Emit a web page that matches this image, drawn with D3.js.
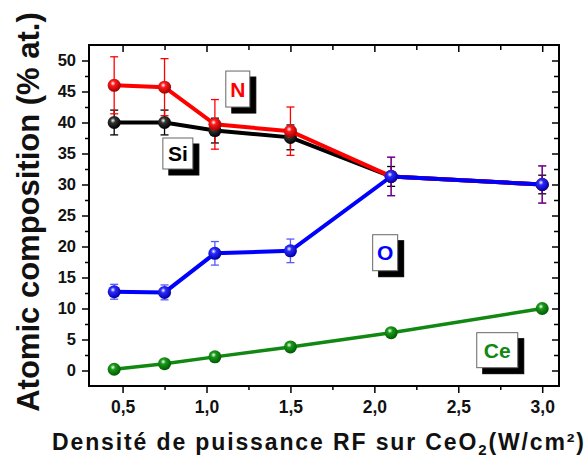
<!DOCTYPE html>
<html>
<head>
<meta charset="utf-8">
<script src="https://cdn.jsdelivr.net/npm/d3@7"></script>
<style>
  body { margin: 0; background: #fff; }
  text { font-family: "Liberation Sans", Arial, sans-serif; font-weight: bold; }
</style>
</head>
<body>
<script>
// power density values (W/cm2)
const xValues = [0.45, 0.75, 1.05, 1.5, 2.1, 3.0];

// atomic composition (% at.) per element
const nValues  = [46.0, 45.7, 39.7, 38.6, 31.3, 30.0];
const nErrors  = [4.6, 4.6, 4.0, 3.9, 3.1, 3.0];
const siValues = [40.0, 40.0, 38.7, 37.6, 31.3, 30.0];
const siErrors = [2.0, 2.0, 2.0, 2.0, 1.6, 1.5];
const oValues  = [12.7, 12.6, 18.9, 19.3, 31.3, 30.0];
const oErrors  = [1.2, 1.2, 1.9, 1.9, 3.1, 3.0];
const ceValues = [0.2, 1.1, 2.2, 3.8, 6.1, 10.0];

const xTicks = [0.5, 1.0, 1.5, 2.0, 2.5, 3.0];
const yTicks = [0, 5, 10, 15, 20, 25, 30, 35, 40, 45, 50];

const width = 588, height = 459;
const margin = {left: 89, top: 45, right: 29, bottom: 73};

const svg = d3.select("body").append("svg")
    .attr("width", width)
    .attr("height", height);

const x = d3.scaleLinear().domain([0.3, 3.1]).range([margin.left, width - margin.right]);
const y = d3.scaleLinear().domain([-2.5, 52.5]).range([height - margin.bottom, margin.top]);

const fmt = d => d3.format(".1f")(d).replace(".", ",");

// sphere gradients
const defs = svg.append("defs");
function sphere(id, color, dark) {
    const g = defs.append("radialGradient").attr("id", id)
        .attr("cx", "40%").attr("cy", "35%").attr("r", "65%");
    g.append("stop").attr("offset", "0%").attr("stop-color", "#fff");
    g.append("stop").attr("offset", "30%").attr("stop-color", color);
    g.append("stop").attr("offset", "100%").attr("stop-color", dark);
}
sphere("gN", "#ff1a1a", "#a00000");
sphere("gSi", "#333", "#000");
sphere("gO", "#2a2aff", "#0000a0");
sphere("gCe", "#1a9a1a", "#005a00");

// axes
const minorX = d3.range(0.25, 3.1, 0.25).filter(v => v > 0.3 && !xTicks.includes(v));
const minorY = d3.range(-2.5, 52.6, 5).filter(v => v > -2.5 && v < 52.5);

svg.append("g")
    .attr("transform", `translate(0,${height - margin.bottom})`)
    .call(d3.axisBottom(x).tickValues(xTicks).tickFormat(fmt).tickSize(7).tickPadding(8))
    .call(g => g.select(".domain").remove())
    .call(g => g.selectAll("line").attr("stroke-width", 1.5))
    .call(g => g.selectAll("text").attr("font-size", 17.5).attr("fill", "#111"));
svg.append("g")
    .attr("transform", `translate(0,${height - margin.bottom})`)
    .call(d3.axisBottom(x).tickValues(minorX).tickFormat("").tickSize(4))
    .call(g => g.select(".domain").remove())
    .call(g => g.selectAll("line").attr("stroke-width", 1.5));

svg.append("g")
    .attr("transform", `translate(${margin.left},0)`)
    .call(d3.axisLeft(y).tickValues(yTicks).tickFormat(d3.format("d")).tickSize(7).tickPadding(6))
    .call(g => g.select(".domain").remove())
    .call(g => g.selectAll("line").attr("stroke-width", 1.5))
    .call(g => g.selectAll("text").attr("font-size", 16.5).attr("fill", "#111"));
svg.append("g")
    .attr("transform", `translate(${margin.left},0)`)
    .call(d3.axisLeft(y).tickValues(minorY).tickFormat("").tickSize(4))
    .call(g => g.select(".domain").remove())
    .call(g => g.selectAll("line").attr("stroke-width", 1.5));

// top and right: inward ticks
svg.append("g")
    .attr("transform", `translate(0,${margin.top})`)
    .call(d3.axisTop(x).tickValues(xTicks).tickFormat("").tickSize(-7))
    .call(g => g.select(".domain").remove())
    .call(g => g.selectAll("line").attr("stroke-width", 1.5));
svg.append("g")
    .attr("transform", `translate(0,${margin.top})`)
    .call(d3.axisTop(x).tickValues(minorX).tickFormat("").tickSize(-5))
    .call(g => g.select(".domain").remove())
    .call(g => g.selectAll("line").attr("stroke-width", 1.5));
svg.append("g")
    .attr("transform", `translate(${width - margin.right},0)`)
    .call(d3.axisRight(y).tickValues(yTicks).tickFormat("").tickSize(-7))
    .call(g => g.select(".domain").remove())
    .call(g => g.selectAll("line").attr("stroke-width", 1.5));
svg.append("g")
    .attr("transform", `translate(${width - margin.right},0)`)
    .call(d3.axisRight(y).tickValues(minorY).tickFormat("").tickSize(-5))
    .call(g => g.select(".domain").remove())
    .call(g => g.selectAll("line").attr("stroke-width", 1.5));

// frame
svg.append("rect")
    .attr("x", margin.left).attr("y", margin.top)
    .attr("width", width - margin.left - margin.right)
    .attr("height", height - margin.top - margin.bottom)
    .attr("fill", "none").attr("stroke", "#000").attr("stroke-width", 2);

// series
const series = [
    {name: "Si", values: siValues, errors: siErrors, color: "#000", grad: "gSi", errOpacity: 1},
    {name: "N", values: nValues, errors: nErrors, color: "#ff0000", grad: "gN", errOpacity: 1},
    {name: "O", values: oValues, errors: oErrors, color: "#0000ff", grad: "gO", errOpacity: 0.65},
    {name: "Ce", values: ceValues, errors: null, color: "#118811", grad: "gCe", errOpacity: 1}
];

const line = d3.line().x(d => x(d[0])).y(d => y(d[1]));

// error bars first
series.forEach(s => {
    if (!s.errors) return;
    const g = svg.append("g").attr("stroke", s.color).attr("stroke-width", 1.3).attr("opacity", s.errOpacity);
    xValues.forEach((xv, i) => {
        const cx = x(xv), lo = y(s.values[i] - s.errors[i]), hi = y(s.values[i] + s.errors[i]);
        g.append("line").attr("x1", cx).attr("x2", cx).attr("y1", lo).attr("y2", hi);
        g.append("line").attr("x1", cx - 4).attr("x2", cx + 4).attr("y1", lo).attr("y2", lo);
        g.append("line").attr("x1", cx - 4).attr("x2", cx + 4).attr("y1", hi).attr("y2", hi);
    });
});

series.forEach(s => {
    const pts = xValues.map((xv, i) => [xv, s.values[i]]);
    svg.append("path")
        .attr("d", line(pts))
        .attr("fill", "none")
        .attr("stroke", s.color)
        .attr("stroke-width", s.name === "Ce" ? 3.5 : 4);
    svg.append("g").selectAll("circle")
        .data(pts)
        .join("circle")
        .attr("cx", d => x(d[0]))
        .attr("cy", d => y(d[1]))
        .attr("r", 6.5)
        .attr("fill", `url(#${s.grad})`);
});

// element label boxes with drop shadow
const labels = [
    {text: "N", color: "#ff0000", bx: 1.115, by: 48.3, w: 24, h: 36},
    {text: "Si", color: "#000", bx: 0.74, by: 37.5, w: 30, h: 31},
    {text: "O", color: "#0000ff", bx: 1.99, by: 21.9, w: 25, h: 36},
    {text: "Ce", color: "#118811", bx: 2.61, by: 6.1, w: 41, h: 35}
];
const sh = 6;
labels.forEach(l => {
    const lx = x(l.bx), ly = y(l.by);
    const g = svg.append("g");
    g.append("rect").attr("x", lx + sh).attr("y", ly + sh).attr("width", l.w).attr("height", l.h)
        .attr("fill", "#000").attr("stroke", "#000").attr("stroke-width", 1);
    g.append("rect").attr("x", lx).attr("y", ly).attr("width", l.w).attr("height", l.h)
        .attr("fill", "#fff").attr("stroke", "#666").attr("stroke-width", 1);
    g.append("text").attr("x", lx + l.w / 2).attr("y", ly + l.h / 2 + 7.5)
        .attr("text-anchor", "middle").attr("font-size", 21).attr("fill", l.color).text(l.text);
});

// axis titles
svg.append("text")
    .attr("transform", `translate(39,212) rotate(-90)`)
    .attr("text-anchor", "middle")
    .attr("font-size", 31)
    .attr("fill", "#111")
    .text("Atomic composition (% at.)");

const xt = svg.append("text")
    .attr("x", 52).attr("y", 450)
    .attr("textLength", 532)
    .attr("lengthAdjust", "spacing")
    .attr("font-size", 23)
    .attr("fill", "#111");
xt.append("tspan").text("Densité de puissance RF sur CeO");
xt.append("tspan").attr("font-size", 15).attr("dy", 5).text("2");
xt.append("tspan").attr("dy", -5).text("(W/cm²)");
</script>
</body>
</html>
